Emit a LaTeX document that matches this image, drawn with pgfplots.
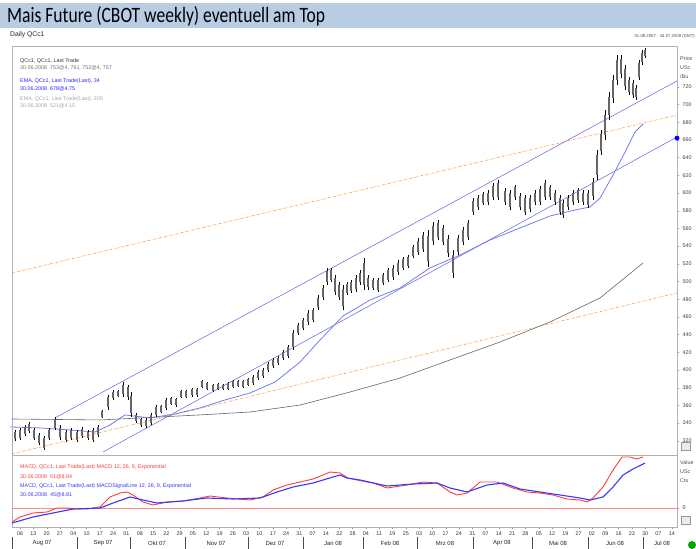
\documentclass[border=0pt]{standalone}
\usepackage{pgfplots}
\pgfplotsset{compat=1.18}
\usepackage{pgfplotstable}
\usepackage{fontspec}
\setmainfont{Liberation Sans}
\newfontfamily\titlefont[FakeStretch=0.8]{Carlito}
\definecolor{titlebg}{RGB}{184,204,228}
\definecolor{chanblue}{RGB}{105,105,225}
\definecolor{mablue}{RGB}{115,125,245}
\definecolor{orangel}{RGB}{255,145,50}
\definecolor{macdred}{RGB}{255,60,60}
\definecolor{macdblue}{RGB}{55,55,255}
\definecolor{zerored}{RGB}{255,140,140}
\definecolor{legblue}{RGB}{40,40,255}
\newcommand\tf{\fontsize{5.4}{6}\selectfont}

% candles: week index (Mon 06.08.2007 = 0), low, high in USc/Bu
\pgfplotstableread{
w lo hi
0.07 319.8 332.2
0.45 320.9 334.5
0.82 325.4 337.8
1.12 328.8 341.2
1.49 320.9 334.5
1.87 315.2 328.8
2.24 309.6 325.4
2.62 320.9 334.5
3.06 332.2 346.9
3.44 320.9 337.8
3.89 318.6 332.2
4.26 320.9 334.5
4.71 318.6 332.2
5.08 323.2 335.6
5.53 320.9 332.2
5.90 318.6 334.5
6.28 324.3 337.8
6.58 345.8 354.8
7.03 354.8 371.8
7.40 366.1 377.4
7.77 369.5 377.4
8.15 369.5 386.4
8.52 366.1 383.1
8.74 346.9 375.1
9.12 340.1 351.4
9.49 335.6 345.8
9.87 334.5 345.8
10.24 337.8 351.4
10.61 346.9 360.4
10.99 351.4 360.4
11.36 354.8 368.4
11.73 360.4 369.5
12.11 358.2 368.4
12.48 368.4 377.4
12.86 368.4 377.4
13.30 369.5 379.7
13.68 369.5 379.7
14.05 379.7 388.7
14.42 377.4 386.4
14.87 375.1 384.2
15.25 377.4 385.3
15.62 377.4 384.2
15.99 377.4 386.4
16.37 379.7 388.7
16.74 380.8 388.7
17.11 379.7 388.7
17.49 381.9 390.9
17.86 383.1 394.3
18.24 388.7 400.0
18.61 390.9 402.2
18.98 397.7 409.0
19.36 402.2 413.6
19.73 405.7 415.8
20.10 411.3 422.6
20.48 413.6 428.2
20.85 422.6 445.2
21.23 439.6 453.1
21.60 445.2 458.8
21.97 450.8 467.8
22.35 454.2 470.1
22.72 467.8 484.7
23.09 479.1 496.0
23.39 496.0 515.3
23.69 499.4 515.3
23.99 484.7 507.3
24.29 479.1 499.4
24.59 467.8 496.0
24.89 484.7 499.4
25.19 487.0 501.7
25.56 488.1 507.3
25.86 496.0 513.0
26.16 490.4 526.5
26.46 490.4 507.3
26.83 490.4 503.9
27.20 488.1 503.9
27.58 496.0 509.6
27.95 499.4 515.3
28.33 501.7 518.6
28.70 507.3 524.3
29.07 513.0 527.7
29.45 515.3 529.9
29.82 526.5 541.2
30.19 529.9 549.2
30.57 533.3 555.9
30.94 516.4 558.2
31.32 541.2 567.2
31.69 546.9 569.5
32.06 541.2 563.8
32.44 527.7 552.5
32.81 503.9 535.6
33.18 529.9 552.5
33.56 541.2 561.6
33.93 546.9 569.5
34.30 575.1 594.3
34.68 580.8 597.7
35.05 586.4 601.1
35.43 586.4 603.4
35.80 592.1 611.3
36.17 592.1 614.7
36.70 586.4 605.7
37.07 580.8 603.4
37.44 592.1 609.1
37.82 580.8 600.0
38.19 575.1 597.7
38.57 578.5 597.7
38.94 586.4 603.4
39.31 586.4 607.9
39.69 592.1 614.7
40.06 592.1 609.1
40.43 586.4 603.4
40.81 575.1 597.7
41.03 571.7 592.1
41.40 580.8 597.7
41.78 586.4 603.4
42.15 588.7 605.7
42.53 586.4 603.4
42.90 583.0 603.4
43.27 592.1 616.9
43.57 614.7 648.6
43.87 642.9 671.2
44.17 659.9 693.8
44.47 682.5 714.1
44.77 701.7 733.4
45.07 722.0 755.9
45.37 729.9 755.9
45.67 716.4 744.6
45.96 710.7 731.1
46.26 707.4 727.7
46.49 705.1 722.0
46.71 727.7 750.3
46.94 744.6 761.6
47.16 752.6 764.0
}\candles

\pgfplotstableread{
w v
-0.30 335.6
1.94 334.5
4.19 332.2
6.05 329.9
7.17 337.8
8.30 349.2
10.16 345.8
12.03 350.3
13.90 357.1
15.77 366.1
17.64 374.0
19.51 386.4
21.38 409.0
22.87 433.9
24.59 461.0
26.61 479.1
28.85 492.6
31.09 515.3
33.33 529.9
35.58 546.9
37.82 560.5
40.06 574.0
41.93 580.8
43.05 584.2
43.80 594.3
44.77 620.3
45.67 646.3
46.41 668.9
47.01 678.0
}\emafast

\pgfplotstableread{
w v
-0.15 344.6
6.43 343.5
13.90 349.2
17.64 352.5
21.38 360.4
25.11 375.1
28.85 390.9
32.59 411.3
36.32 431.6
40.06 454.2
43.80 481.4
47.01 520.9
}\emaslow

\pgfplotstableread{
w v
-0.15 -14
0.45 -9
1.42 -5
2.47 -4
3.21 0
3.96 0
4.71 -1
5.46 -1
6.43 1
7.17 11
7.92 15
8.45 16
8.89 13
9.64 6
10.39 3
11.43 6
12.63 7
13.90 10
14.65 12
15.92 10
17.64 8
18.61 11
19.36 18
20.40 23
21.38 26
22.35 29
23.09 33
23.62 36
24.37 35
24.96 30
25.64 28
26.83 25
27.88 20
29.37 23
30.57 26
31.61 25
32.59 16
33.11 13
33.86 15
34.30 20
34.83 26
36.10 26
37.29 20
38.34 16
39.31 15
40.28 13
41.33 9
42.30 8
42.83 6
43.27 10
44.02 21
44.77 38
45.44 51
46.04 51
46.56 49
47.01 51
}\macd

\pgfplotstableread{
w v
-0.15 -15
1.42 -9
2.91 -5
4.41 -1
6.43 0
7.40 5
8.67 11
9.64 8
10.69 5
12.63 7
14.42 10
16.37 9
18.39 10
19.66 16
20.85 21
22.35 25
23.84 31
24.37 33
24.89 30
25.86 28
27.88 22
29.82 24
31.61 25
32.59 20
33.86 16
35.35 23
36.55 25
37.82 19
39.31 16
40.81 13
42.30 10
43.05 8
44.02 11
44.77 21
45.52 33
46.26 39
47.16 45
}\signal

\begin{document}
\begin{tikzpicture}
\path[use as bounding box] (0,0) rectangle (696bp,-549bp);
\fill[titlebg] (0,-2.5bp) rectangle (696bp,-28bp);
\node[anchor=base west, inner sep=0, font=\titlefont\fontsize{22}{22}\selectfont] at (7bp,-22.7bp) {Mais Future (CBOT weekly) eventuell am Top};
\node[anchor=west, inner sep=0, font=\fontsize{6.8}{7}\selectfont, text=black!85] at (10bp,-35bp) {Daily QCc1};
\node[anchor=east, inner sep=0, font=\fontsize{4.3}{5}\selectfont, text=black!70] at (695bp,-36bp) {01.08.2007 - 16.07.2008 (GMT)};

\begin{axis}[
  at={(12bp,-46bp)}, anchor=north west,
  scale only axis, width=665bp, height=409bp,
  xmin=-0.15, xmax=49.55, ymin=303.9, ymax=766.1,
  axis line style={black!30},
  xtick=\empty,
  ytick={320,340,...,720},
  ytick pos=right, yticklabel pos=right,
  tick align=outside, major tick length=2bp,
  ytick style={black!45},
  yticklabel style={font=\tf, text=black!75},
  /pgf/number format/assume math mode=true,
  clip=false,
]
\addplot[orangel, line width=0.6bp, dash pattern=on 2.2bp off 1.4bp on 0.6bp off 1.4bp] coordinates {(-0.15,509.6) (49.55,688.1)};
\addplot[orangel, line width=0.6bp, dash pattern=on 2.2bp off 1.4bp on 0.6bp off 1.4bp] coordinates {(-0.15,305.1) (49.55,487.0)};
\addplot[black!60, line width=0.6bp] table[x=w, y=v] {\emaslow};
\addplot[chanblue, line width=0.55bp] coordinates {(3.06,345.8) (49.55,726.6)};
\addplot[chanblue, line width=0.55bp] coordinates {(6.65,307.3) (49.55,663.3)};
\addplot[mablue, line width=0.8bp] table[x=w, y=v] {\emafast};
% wicks
\addplot[draw=none, mark=none, error bars/.cd, y dir=both, y explicit, error mark=none,
  error bar style={draw=black, solid, line width=0.5bp}]
  table[x=w, y expr={(\thisrow{lo}+\thisrow{hi})/2}, y error expr={(\thisrow{hi}-\thisrow{lo})/2}] {\candles};
% bodies
\addplot[draw=none, mark=none, error bars/.cd, y dir=both, y explicit, error mark=none,
  error bar style={draw=black!60, solid, line width=2.1bp}]
  table[x=w, y expr={(\thisrow{lo}+\thisrow{hi})/2}, y error expr={0.33*(\thisrow{hi}-\thisrow{lo})}] {\candles};
\addplot[only marks, mark=*, mark size=2.2bp, color=blue] coordinates {(49.55,662)};
\end{axis}

\begin{axis}[
  at={(12bp,-455bp)}, anchor=north west,
  scale only axis, width=665bp, height=72bp,
  xmin=-0.15, xmax=49.55, ymin=-19, ymax=53,
  axis line style={black!30},
  ytick={0}, ytick pos=right, yticklabel pos=right,
  tick align=outside, major tick length=2bp,
  tick style={black!45},
  yticklabel style={font=\tf, text=black!80},
  xtick pos=bottom,
  xtick={0.45,1.44,2.44,3.43,4.43,5.42,6.41,7.41,8.40,9.40,10.39,11.38,12.38,13.37,14.37,15.36,16.35,17.35,18.34,19.34,20.33,21.32,22.32,23.31,24.31,25.30,26.29,27.29,28.28,29.28,30.27,31.26,32.26,33.25,34.25,35.24,36.23,37.23,38.22,39.22,40.21,41.20,42.20,43.19,44.19,45.18,46.17,47.17,48.16,49.16},
  xticklabels={06,13,20,27,04,10,17,24,01,08,15,22,29,05,12,19,26,03,10,17,24,31,07,14,22,28,04,11,19,25,03,10,17,24,31,07,14,21,28,05,12,19,27,02,09,16,23,30,07,14},
  xticklabel style={font=\tf, text=black!80, yshift=1bp},
  /pgf/number format/assume math mode=true,
]
\addplot[zerored, line width=0.6bp] coordinates {(-0.15,0) (49.55,0)};
\addplot[macdred, line width=0.9bp] table[x=w, y=v] {\macd};
\addplot[macdblue, line width=1.1bp] table[x=w, y=v] {\signal};
\end{axis}

% legends
\begin{scope}[every node/.style={anchor=west, inner sep=0, font=\fontsize{5.4}{6}\selectfont}]
\node[text=black!80] at (20bp,-60.7bp) {QCc1, QCc1, Last Trade};
\node[text=black!55] at (20bp,-67.7bp) {30.06.2008 \ 753@4, 761, 752@4, 757};
\node[text=legblue] at (20bp,-80.7bp) {EMA, QCc1, Last Trade(Last), 34};
\node[text=legblue] at (20bp,-88.7bp) {30.06.2008 \ 678@4.75};
\node[text=black!35] at (20bp,-99.3bp) {EMA, QCc1, Last Trade(Last), 200};
\node[text=black!35] at (20bp,-106bp) {30.06.2008 \ 521@4.15};
\node[text=macdred] at (20bp,-467bp) {MACD, QCc1, Last Trade(Last) MACD 12, 26, 9, Exponential};
\node[text=macdred] at (20bp,-477bp) {30.06.2008 \ 51@8.94};
\node[text=macdblue] at (20bp,-486bp) {MACD, QCc1, Last Trade(Last) MACDSignalLine 12, 26, 9, Exponential};
\node[text=macdblue] at (20bp,-495bp) {30.06.2008 \ 45@8.81};
\end{scope}
% right axis captions
\begin{scope}[every node/.style={anchor=west, inner sep=0, font=\tf, text=black!70}]
\node at (680bp,-59bp) {Price};
\node at (680bp,-68bp) {USc};
\node at (680bp,-77bp) {/Bu};
\node at (680bp,-463bp) {Value};
\node at (680bp,-472bp) {USc};
\node at (680bp,-481bp) {Cts};
\end{scope}
\draw[black!40, fill=black!8] (681bp,-442bp) rectangle (690bp,-450bp);
\draw[black!40, fill=black!8] (681bp,-516bp) rectangle (690bp,-524bp);
% month separators and names
\foreach \sx in {12,77,130,185,248,303,363,417,473,532,588,643}
  \draw[black!70, line width=0.5bp] (\sx bp,-537bp) -- (\sx bp,-549bp);
\begin{scope}[every node/.style={inner sep=0, font=\fontsize{6}{7}\selectfont, text=black!85}]
\node at (42bp,-543bp) {Aug 07};
\node at (103bp,-543bp) {Sep 07};
\node at (157bp,-543bp) {Okt 07};
\node at (216bp,-543bp) {Nov 07};
\node at (275bp,-543bp) {Dez 07};
\node at (333bp,-543bp) {Jan 08};
\node at (390bp,-543bp) {Feb 08};
\node at (445bp,-543bp) {Mrz 08};
\node at (502bp,-543bp) {Apr 08};
\node at (558bp,-543bp) {Mai 08};
\node at (615bp,-543bp) {Jun 08};
\node at (662bp,-543bp) {Jul 08};
\end{scope}
\fill[green!65!black] (692bp,-545bp) circle (4bp);
\end{tikzpicture}
\end{document}
